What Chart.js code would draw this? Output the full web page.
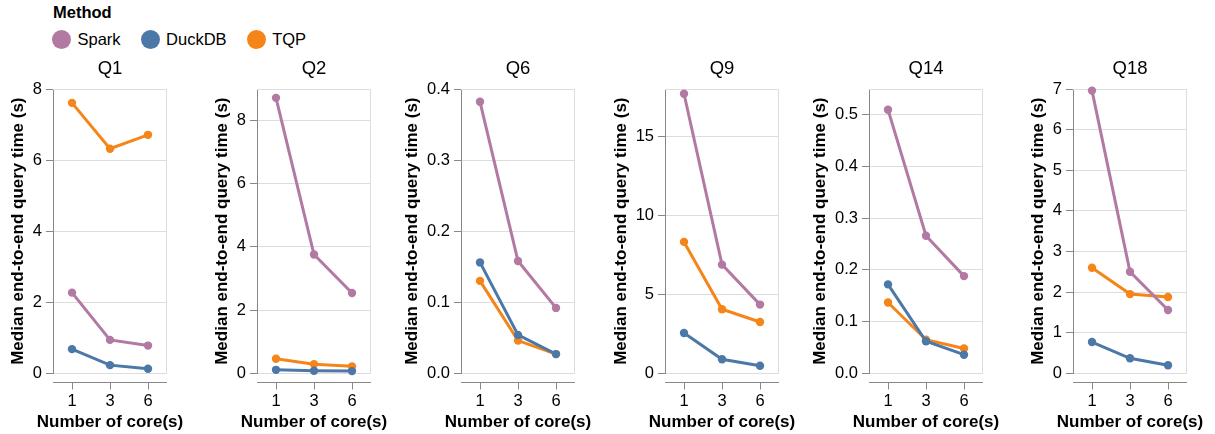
<!DOCTYPE html>
<html>
<head>
<meta charset="utf-8">
<title>Median end-to-end query time by cores</title>
<script src="https://cdn.jsdelivr.net/npm/chart.js@4"></script>
<style>
  html, body { margin: 0; padding: 0; background: #fff; }
  body {
    position: relative; width: 1215px; height: 434px; overflow: hidden;
    font-family: "Liberation Sans", Arial, Helvetica, sans-serif; color: #000;
  }
  .legend-title { position: absolute; left: 53px; top: 2px; font-size: 16.5px; line-height: 20px; font-weight: bold; }
  .legend { position: absolute; left: 52px; top: 30px; height: 19px; display: flex; align-items: center; gap: 20px; font-size: 16.5px; }
  .legend-item { display: flex; align-items: center; gap: 6.5px; }
  .swatch { width: 19px; height: 19px; border-radius: 50%; }
  .panel { position: absolute; top: 0; height: 434px; }
  .panel canvas { position: absolute; left: 0; top: 0; }
  .head, .xtitle { position: absolute; transform: translateX(-50%); white-space: nowrap; }
  .head { top: 57px; font-size: 18.5px; line-height: 22px; }
  .xtitle { top: 412px; font-size: 17px; line-height: 20px; font-weight: bold; }
</style>
</head>
<body>
<div class="legend-title">Method</div>
<div class="legend" id="legend"></div>

<script>
// Six small multiples: median query time vs. core count, one panel per TPC-H query.

const CORES = ['1', '3', '6'];
const QUERIES = ['Q1', 'Q2', 'Q6', 'Q9', 'Q14', 'Q18'];
const METHODS = ['Spark', 'DuckDB', 'TQP'];

// one row per query, one value per core count (seconds)
const SPARK = [
  [2.27, 0.94, 0.78],
  [8.72, 3.76, 2.54],
  [0.382, 0.158, 0.092],
  [17.7, 6.88, 4.35],
  [0.510, 0.266, 0.188],
  [6.96, 2.50, 1.56],
];
const DUCKDB = [
  [0.68, 0.23, 0.13],
  [0.11, 0.08, 0.07],
  [0.156, 0.054, 0.027],
  [2.55, 0.89, 0.48],
  [0.172, 0.062, 0.036],
  [0.77, 0.37, 0.20],
];
const TQP = [
  [7.61, 6.32, 6.71],
  [0.46, 0.29, 0.22],
  [0.130, 0.046, 0.027],
  [8.32, 4.06, 3.25],
  [0.137, 0.065, 0.048],
  [2.60, 1.95, 1.88],
];

// y domain top and tick step per panel
const Y_MAX = [8, 9, 0.4, 18, 0.55, 7];
const Y_STEP = [2, 2, 0.1, 5, 0.1, 1];

const SERIES = [SPARK, DUCKDB, TQP];
const COLOURS = ['#b279a2', '#4c78a8', '#f58518'];

// ---------- layout ----------
const H = 434;
const PLOT_TOP = 89;
const X_AXIS_H = 60.7;    // canvas height below the plot
const PLOT_W = 114;
const SIDE = 63;          // space either side of a plot inside its canvas
const FIRST_AXIS = 53;    // x of the first panel's y axis
const COL_STEP = 204;

Chart.defaults.font.family = '"Liberation Sans", Arial, Helvetica, sans-serif';
Chart.defaults.color = '#000';

// legend (shared by all panels)
const legend = document.getElementById('legend');
METHODS.forEach((name, m) => {
  const item = document.createElement('div');
  item.className = 'legend-item';
  const sw = document.createElement('span');
  sw.className = 'swatch';
  sw.style.background = COLOURS[m];
  const txt = document.createElement('span');
  txt.textContent = name;
  item.append(sw, txt);
  legend.append(item);
});

// light view border on top/right, plus the x axis sitting a little below the plot
const frame = {
  id: 'frame',
  beforeDatasetsDraw(chart) {
    const { ctx, chartArea: a, scales: { x } } = chart;
    ctx.save();
    ctx.lineWidth = 1;
    ctx.strokeStyle = '#ddd';
    ctx.beginPath();
    ctx.moveTo(a.left, a.top + 0.5);
    ctx.lineTo(a.right - 0.5, a.top + 0.5);
    ctx.lineTo(a.right - 0.5, a.bottom);
    ctx.stroke();

    const y0 = Math.round(a.bottom + 9) + 0.5;
    ctx.strokeStyle = '#888';
    ctx.beginPath();
    ctx.moveTo(a.left, y0);
    ctx.lineTo(a.right, y0);
    x.ticks.forEach((_, i) => {
      const px = Math.round(x.getPixelForTick(i)) + 0.5;
      ctx.moveTo(px, y0);
      ctx.lineTo(px, y0 + 7);
    });
    ctx.stroke();
    ctx.restore();
  },
};

function panelConfig(q) {
  const decimals = Y_STEP[q] < 1 ? 1 : 0;
  return {
    type: 'line',
    data: {
      labels: CORES,
      datasets: METHODS.map((name, m) => ({
        label: name,
        data: SERIES[m][q],
        borderColor: COLOURS[m],
        backgroundColor: COLOURS[m],
        borderWidth: 3,
        pointRadius: 4.2,
        pointHoverRadius: 4.2,
        pointBorderWidth: 0,
        tension: 0,
        clip: false,
      })),
    },
    options: {
      responsive: false,
      animation: false,
      events: [],
      layout: { padding: { left: 0, right: SIDE, top: PLOT_TOP, bottom: 0 } },
      plugins: {
        legend: { display: false },
        tooltip: { enabled: false },
      },
      scales: {
        x: {
          type: 'category',
          offset: true,
          grid: { display: false, drawTicks: false },
          border: { display: false },
          ticks: { padding: 18.5, maxRotation: 0, autoSkip: false, font: { size: 16.5 } },
          afterFit: (s) => { s.height = X_AXIS_H; },
        },
        y: {
          min: 0,
          max: Y_MAX[q],
          border: { color: '#888' },
          grid: { color: '#ddd', tickColor: '#888', tickLength: 7 },
          ticks: {
            stepSize: Y_STEP[q],
            includeBounds: false,
            padding: 4,
            font: { size: 16.5 },
            callback: (v) => Number(v).toFixed(decimals),
          },
          title: {
            display: true,
            text: 'Median end-to-end query time (s)',
            font: { size: 17, weight: 'bold', lineHeight: 1 },
            padding: { top: 0, bottom: 2 },
          },
        },
      },
    },
    plugins: [frame],
  };
}

QUERIES.forEach((name, q) => {
  const W = 2 * SIDE + PLOT_W;
  const wrap = document.createElement('div');
  wrap.className = 'panel';
  wrap.style.left = (FIRST_AXIS + q * COL_STEP - SIDE) + 'px';
  wrap.style.width = W + 'px';

  const canvas = document.createElement('canvas');
  canvas.width = W;
  canvas.height = H;

  const head = document.createElement('div');
  head.className = 'head';
  head.style.left = (SIDE + PLOT_W / 2) + 'px';
  head.textContent = name;

  const xTitle = document.createElement('div');
  xTitle.className = 'xtitle';
  xTitle.style.left = (SIDE + PLOT_W / 2) + 'px';
  xTitle.textContent = 'Number of core(s)';

  wrap.append(canvas, head, xTitle);
  document.body.append(wrap);

  const chart = new Chart(canvas, panelConfig(q));
  // first pass gives the natural y-axis width; pad so every plot starts at SIDE
  chart.options.layout.padding.left = Math.max(0, SIDE - chart.chartArea.left);
  chart.update();
});
</script>
</body>
</html>
